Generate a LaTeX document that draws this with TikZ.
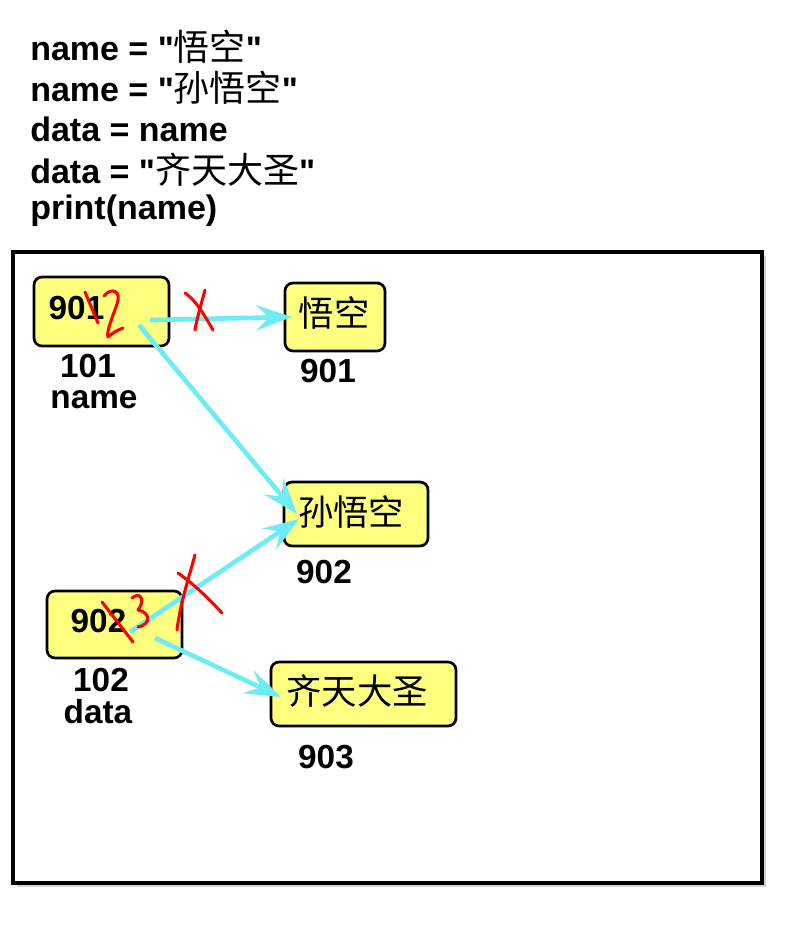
\documentclass[tikz,border=0pt]{standalone}
\usepackage{fontspec}
\setmainfont{Liberation Sans}
\newfontfamily\qfont{Liberation Sans}[Ligatures=ResetAll]
\newfontfamily\cjk{Noto Sans CJK SC}
\usetikzlibrary{arrows.meta,shadows}
\definecolor{boxyellow}{RGB}{255,255,128}
\definecolor{arrowcyan}{RGB}{110,236,245}
\newcommand{\dq}{{\qfont\bfseries\symbol{34}}}
\newcommand{\cj}[1]{{\mdseries\fontsize{27}{30}\selectfont\cjk #1}}
\tikzset{
  membox/.style={draw=black, line width=2pt, rounded corners=6pt, fill=boxyellow, inner sep=0pt},
  numtxt/.style={font=\fontsize{25}{28}\selectfont\bfseries},
  lbl/.style={font=\fontsize{25}{26}\selectfont\bfseries, inner sep=0pt},
  cjktxt/.style={font=\fontsize{26.5}{29}\selectfont\cjk},
  ref/.style={draw=arrowcyan, line width=3.5pt, -{Stealth[length=27pt,width=19pt,inset=10pt]}},
  redmark/.style={draw=red, line width=2.3pt, line cap=round, line join=round},
  codeline/.style={anchor=west, inner sep=0pt, font=\fontsize{25.5}{28}\selectfont\bfseries}
}
\begin{document}
\begin{tikzpicture}[x=0.75pt,y=-0.75pt]
\useasboundingbox (0,0) rectangle (793,935);
% code
\node[codeline] (c1) at (30,47) {name = \dq\cj{悟空}\dq};
\node[codeline] (c2) at (30,88) {name = \dq\cj{孙悟空}\dq};
\node[codeline] (c3) at (30,129) {data = name};
\node[codeline] (c4) at (30,170) {data = \dq\cj{齐天大圣}\dq};
\node[codeline] (c5) at (30,211) {print(name)};
% frame
\draw[line width=3pt, fill=white, drop shadow={shadow xshift=3pt, shadow yshift=-3pt, opacity=0.35}] (13,252) rectangle (762,883);
\node[draw=none, inner sep=0pt] (frame) at (387.5,567.5) {};
% boxes
\node[membox, minimum width={135*0.75pt}, minimum height={69*0.75pt}] (name) at (101.5,311.5) {};
\node[numtxt, anchor=west] (nameval) at (44,308) {901};
\node[membox, minimum width={100*0.75pt}, minimum height={68*0.75pt}] (wk) at (335,317) {};
\node[cjktxt] (wktxt) at (334,313) {悟空};
\node[membox, minimum width={144*0.75pt}, minimum height={64*0.75pt}] (swk) at (356,514) {};
\node[cjktxt] (swktxt) at (351,512) {孙悟空};
\node[membox, minimum width={135*0.75pt}, minimum height={67*0.75pt}] (data) at (114.5,624.5) {};
\node[numtxt, anchor=west] (dataval) at (66,621) {902};
\node[membox, minimum width={185*0.75pt}, minimum height={64*0.75pt}] (qt) at (363.5,694) {};
\node[cjktxt] (qttxt) at (357,691) {齐天大圣};
% labels
\node[lbl] (l101) at (88,366) {101};
\node[lbl] (lname) at (94,400) {name};
\node[lbl] (l901) at (328,371) {901};
\node[lbl] (l902) at (324,572) {902};
\node[lbl] (l102) at (101,680) {102};
\node[lbl] (ldata) at (98,712) {data};
\node[lbl] (l903) at (326,757) {903};
% arrow anchor coordinates
\coordinate (s1) at (150,320);
\coordinate (t1) at (292,317);
\coordinate (s2) at (139,325);
\coordinate (t2) at (297,514);
\coordinate (s3) at (130,632);
\coordinate (t3) at (299,519);
\coordinate (s4) at (155,638);
\coordinate (t4) at (281,697);
\draw[ref] (s1) -- (t1);
\draw[ref] (s2) -- (t2);
\draw[ref] (s3) -- (t3);
\draw[ref] (s4) -- (t4);
% red handwritten marks
\draw[redmark] (85,292) -- (98,323);
\draw[redmark] (104,296) .. controls (112,286) and (122,292) .. (117,304) .. controls (113,316) and (106,332) .. (108,337) .. controls (112,333) and (118,330) .. (123,328);
\draw[redmark] (185,293) .. controls (196,300) and (206,318) .. (213,330);
\draw[redmark] (205,290) .. controls (201,305) and (197,318) .. (195,330);
\draw[redmark] (102,602) -- (133,642);
\draw[redmark] (132,598) .. controls (140,591) and (146,600) .. (138,610) .. controls (150,612) and (152,624) .. (138,627);
\draw[redmark] (195,555) .. controls (188,580) and (180,605) .. (177,630);
\draw[redmark] (178,573) .. controls (195,585) and (210,600) .. (222,613);
\end{tikzpicture}
\end{document}
